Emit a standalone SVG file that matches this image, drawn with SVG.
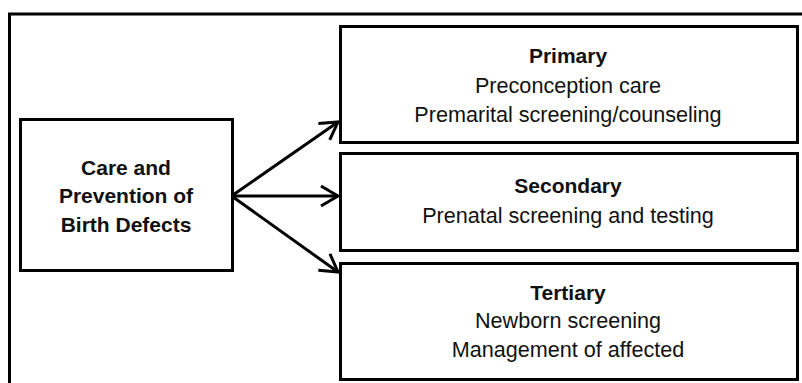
<svg xmlns="http://www.w3.org/2000/svg" width="802" height="383" viewBox="0 0 802 383">
<style>
.box{fill:#fff;stroke:#000;stroke-width:3}
.t{font-family:"Liberation Sans",Arial,sans-serif;font-size:21.6px;fill:#111;text-anchor:middle}
.b{font-weight:bold;font-size:21px}
.c{fill:none;stroke:#000;stroke-width:3}
</style>
<defs>
<marker id="ah" markerUnits="userSpaceOnUse" markerWidth="30" markerHeight="30" refX="20" refY="12" orient="auto">
<path d="M3,2 L20,12 L3,22" fill="none" stroke="#000" stroke-width="3"/>
</marker>
</defs>
<rect width="802" height="383" fill="#fff"/>
<path d="M9.5,383 V14 H802" fill="none" stroke="#000" stroke-width="3"/>
<g id="connectors">
<line class="c" x1="233" y1="195" x2="338" y2="122" marker-end="url(#ah)"/>
<line class="c" x1="233" y1="196" x2="338" y2="196" marker-end="url(#ah)"/>
<line class="c" x1="233" y1="197" x2="338" y2="272" marker-end="url(#ah)"/>
</g>
<g id="source">
<rect class="box" x="20.5" y="119.5" width="212" height="151"/>
<text class="t b" x="126" y="175">Care and</text>
<text class="t b" x="126" y="203">Prevention of</text>
<text class="t b" x="126" y="232">Birth Defects</text>
</g>
<g id="primary">
<rect class="box" x="340.5" y="26.5" width="457" height="116"/>
<text class="t b" x="568" y="63">Primary</text>
<text class="t" x="568" y="93">Preconception care</text>
<text class="t" x="568" y="122">Premarital screening/counseling</text>
</g>
<g id="secondary">
<rect class="box" x="340.5" y="153.5" width="457" height="97"/>
<text class="t b" x="568" y="193">Secondary</text>
<text class="t" x="568" y="223">Prenatal screening and testing</text>
</g>
<g id="tertiary">
<rect class="box" x="340.5" y="263.5" width="457" height="116"/>
<text class="t b" x="568" y="300">Tertiary</text>
<text class="t" x="568" y="328">Newborn screening</text>
<text class="t" x="568" y="357">Management of affected</text>
</g>
</svg>
